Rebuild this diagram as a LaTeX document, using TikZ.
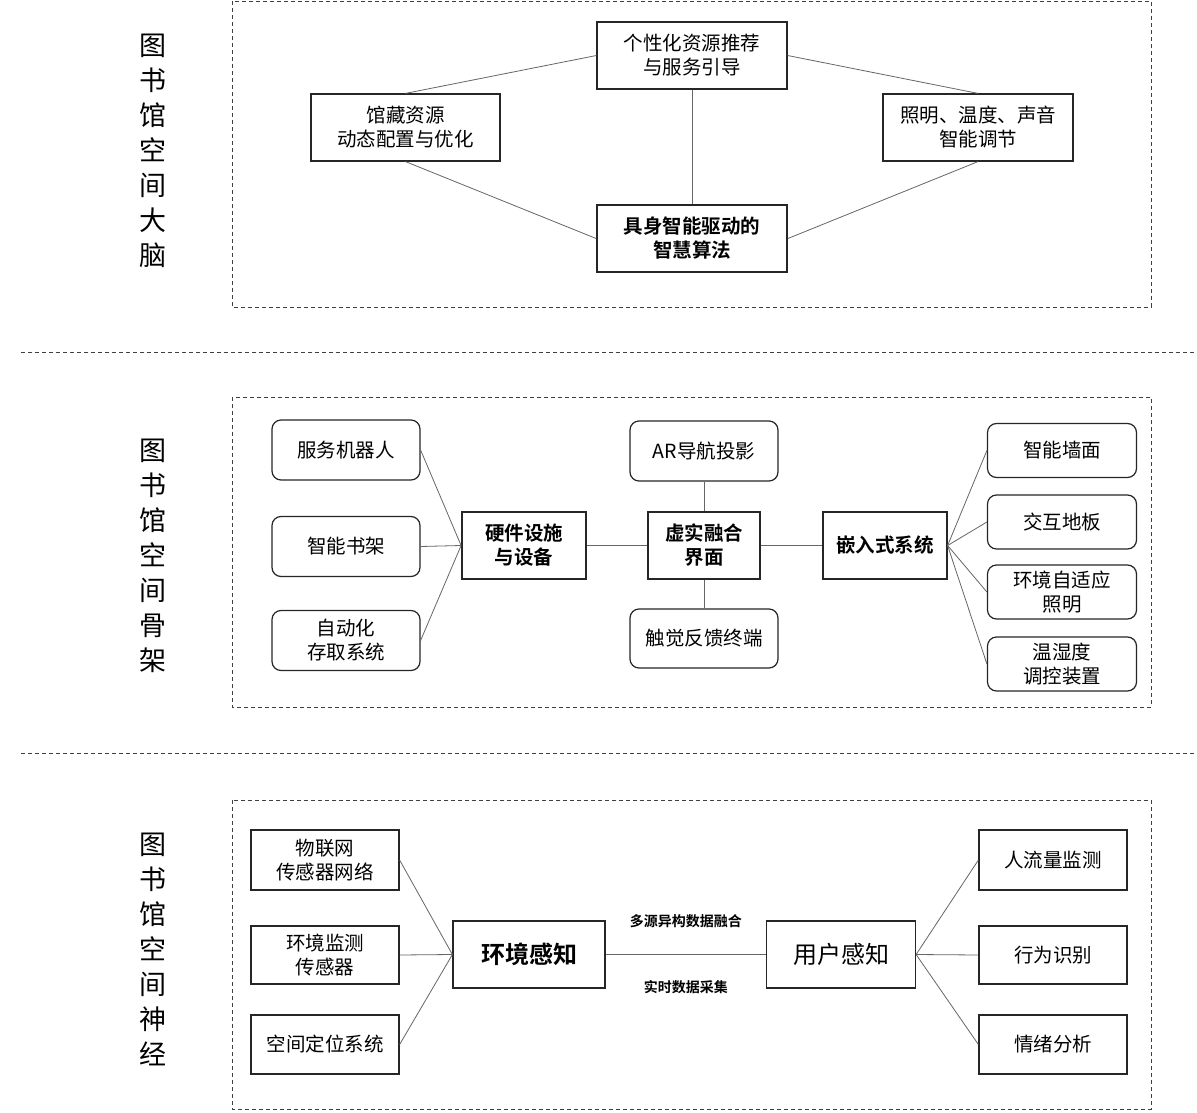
\documentclass[tikz,border=0pt]{standalone}
\usepackage{fontspec}
\setmainfont{Noto Sans CJK SC}[BoldFont={Noto Sans CJK SC Bold}]
\begin{document}
\begin{tikzpicture}[x=1pt,y=-1pt,
  box/.style={draw=black!85, line width=1.2pt, align=center, inner sep=0pt, font=\fontsize{19.5}{24}\selectfont},
  rbox/.style={box, rounded corners=9pt},
  bbox/.style={box, line width=1.8pt, font=\bfseries\fontsize{19.5}{24}\selectfont},
  conn/.style={draw=black!60, line width=0.8pt},
  frame/.style={draw=black!75, dash pattern=on 4pt off 3pt, line width=0.9pt},
  vlabel/.style={align=center, inner sep=0pt, font=\fontsize{27}{35}\selectfont},
  elabel/.style={font=\bfseries\fontsize{14}{16}\selectfont, inner sep=0pt}
]
\useasboundingbox (0,0) rectangle (1197,1113);
\fill[white] (0,0) rectangle (1197,1113);

% ---------- Section 1 ----------
\draw[frame] (232,1) rectangle (1151,307);
\node[vlabel] (lab1) at (153,150.5) {图\\书\\馆\\空\\间\\大\\脑};
\node[box, minimum width=190pt, minimum height=67pt] (p1) at (692,55.5) {个性化资源推荐\\与服务引导};
\node[box, minimum width=189pt, minimum height=67pt] (p2) at (405.5,127.5) {馆藏资源\\动态配置与优化};
\node[box, minimum width=190pt, minimum height=67pt] (p3) at (978,127.5) {照明、温度、声音\\智能调节};
\node[bbox, minimum width=190pt, minimum height=67pt] (p4) at (692,238.5) {具身智能驱动的\\智慧算法};
\draw[conn] (p1.west) -- (p2.north);
\draw[conn] (p1.east) -- (p3.north);
\draw[conn] (p2.south) -- (p4.west);
\draw[conn] (p3.south) -- (p4.east);
\draw[conn] (p1.south) -- (p4.north);

\draw[frame] (21,352.5) -- (1197,352.5);

% ---------- Section 2 ----------
\draw[frame] (232,397) rectangle (1151,707);
\node[vlabel] (lab2) at (153,555.5) {图\\书\\馆\\空\\间\\骨\\架};
\node[rbox, minimum width=148pt, minimum height=60pt] (s1) at (346,450) {服务机器人};
\node[rbox, minimum width=148pt, minimum height=60pt] (s2) at (346,546.5) {智能书架};
\node[rbox, minimum width=148pt, minimum height=60pt] (s3) at (346,640.5) {自动化\\存取系统};
\node[bbox, minimum width=124pt, minimum height=67pt] (hw) at (524,545.5) {硬件设施\\与设备};
\node[rbox, minimum width=148pt, minimum height=60pt] (ar) at (704,451) {AR导航投影};
\node[bbox, minimum width=112pt, minimum height=67pt] (vr) at (704,545.5) {虚实融合\\界面};
\node[rbox, minimum width=148pt, minimum height=59pt] (tc) at (704,638.5) {触觉反馈终端};
\node[box, font=\bfseries\fontsize{19.5}{24}\selectfont, minimum width=124pt, minimum height=67pt] (em) at (885,545.5) {嵌入式系统};
\node[rbox, minimum width=149pt, minimum height=54pt] (r1) at (1062,450.5) {智能墙面};
\node[rbox, minimum width=149pt, minimum height=54pt] (r2) at (1062,522) {交互地板};
\node[rbox, minimum width=149pt, minimum height=54pt] (r3) at (1062,592) {环境自适应\\照明};
\node[rbox, minimum width=149pt, minimum height=54pt] (r4) at (1062,664) {温湿度\\调控装置};
\foreach \s in {s1,s2,s3} \draw[conn] (\s.east) -- (hw.west);
\draw[conn] (hw.east) -- (vr.west);
\draw[conn] (vr.east) -- (em.west);
\draw[conn] (ar.south) -- (vr.north);
\draw[conn] (vr.south) -- (tc.north);
\foreach \r in {r1,r2,r3,r4} \draw[conn] (em.east) -- (\r.west);

\draw[frame] (21,753) -- (1197,753);

% ---------- Section 3 ----------
\draw[frame] (232,800) rectangle (1151,1109);
\node[vlabel] (lab3) at (153,949) {图\\书\\馆\\空\\间\\神\\经};
\node[box, minimum width=148pt, minimum height=60pt] (n1) at (325,860) {物联网\\传感器网络};
\node[box, minimum width=148pt, minimum height=58pt] (n2) at (325,955) {环境监测\\传感器};
\node[box, minimum width=148pt, minimum height=59pt] (n3) at (325,1044.5) {空间定位系统};
\node[box, font=\bfseries\fontsize{24}{28}\selectfont, minimum width=152pt, minimum height=67pt] (env) at (529,954.5) {环境感知};
\node[box, font=\fontsize{24}{28}\selectfont, minimum width=149pt, minimum height=67pt] (usr) at (841,954.5) {用户感知};
\node[box, minimum width=148pt, minimum height=60pt] (u1) at (1053,860) {人流量监测};
\node[box, minimum width=148pt, minimum height=58pt] (u2) at (1053,955) {行为识别};
\node[box, minimum width=148pt, minimum height=59pt] (u3) at (1053,1044.5) {情绪分析};
\foreach \n in {n1,n2,n3} \draw[conn] (\n.east) -- (env.west);
\draw[conn] (env.east) -- (usr.west)
  node[elabel, midway, yshift=33pt] (lt) {多源异构数据融合}
  node[elabel, midway, yshift=-33pt] (lb) {实时数据采集};
\foreach \u in {u1,u2,u3} \draw[conn] (usr.east) -- (\u.west);
\end{tikzpicture}
\end{document}
